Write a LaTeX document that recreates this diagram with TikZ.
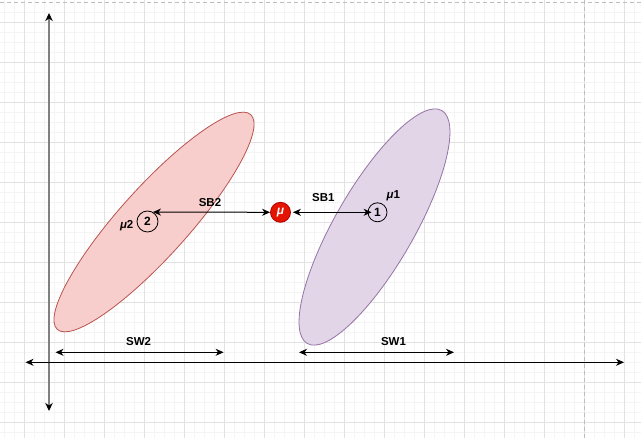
\documentclass[tikz,border=0pt]{standalone}
\usepackage{fontspec}
\setmainfont{Liberation Sans}
\usetikzlibrary{positioning,arrows.meta,shapes.geometric}
\definecolor{cRedFill}{HTML}{F8CECC}
\definecolor{cRedLine}{HTML}{B85450}
\definecolor{cPurFill}{HTML}{E1D5E7}
\definecolor{cPurLine}{HTML}{9673A6}
\definecolor{cMu}{HTML}{E51400}
\definecolor{cMuLine}{HTML}{B20000}
\definecolor{cAxis}{HTML}{808080}
\definecolor{cGridMajor}{HTML}{E2E2E2}
\definecolor{cGridMinor}{HTML}{F4F4F4}
\definecolor{cPage}{HTML}{BDBDBD}
\tikzset{
  grid-minor/.style={draw=cGridMinor,line width=0.8pt},
  grid-major/.style={draw=cGridMajor,line width=1pt},
  page-break/.style={draw=cPage,line width=0.8pt,dash pattern=on 4pt off 3pt},
  cluster-red/.style={ellipse,draw=cRedLine,fill=cRedFill,line width=0.8pt,inner sep=0pt},
  cluster-purple/.style={ellipse,draw=cPurLine,fill=cPurFill,line width=0.8pt,inner sep=0pt},
  node-mean/.style={circle,draw=black,line width=0.8pt,inner sep=0pt,
    font=\fontsize{12}{12}\selectfont\bfseries},
  node-mu/.style={circle,draw=cMuLine,fill=cMu,text=white,line width=0.8pt,inner sep=0pt,
    minimum size=20pt,font=\fontsize{12}{12}\selectfont\bfseries\itshape},
  node-label/.style={inner sep=0pt,font=\fontsize{11.5}{12}\selectfont\bfseries},
  arrow-both/.style={{Stealth[length=8pt,width=7pt,inset=2.5pt]}-{Stealth[length=8pt,width=7pt,inset=2.5pt]},
    line width=1pt,draw=black},
  arrow-axis/.style={{Stealth[length=8pt,width=7.5pt,inset=2.5pt,color=black]}-{Stealth[length=8pt,width=7.5pt,inset=2.5pt,color=black]},
    line width=2pt,draw=cAxis},
}

\begin{document}
\begin{tikzpicture}[x=1pt,y=-1pt]
  \useasboundingbox[fill=white] (0,0) rectangle (641,438);
  % background grid
  \foreach \i in {0,...,63} \draw[grid-minor] ({4.3+10*\i},0) -- ({4.3+10*\i},438);
  \foreach \j in {1,...,43} \draw[grid-minor] (0,{2.3+10*\j}) -- (641,{2.3+10*\j});
  \foreach \i in {0,...,15} \draw[grid-major] ({24.3+40*\i},0) -- ({24.3+40*\i},438);
  \foreach \j in {0,...,10} \draw[grid-major] (0,{22.3+40*\j}) -- (641,{22.3+40*\j});
  \draw[page-break] (0,2.3) -- (641,2.3);
  \draw[page-break] (584.3,0) -- (584.3,438);

  % the two classes
  \node[cluster-red,minimum width=289pt,minimum height=69pt,rotate=48] (ell2) at (154,222) {};
  \node[cluster-purple,minimum width=269pt,minimum height=79pt,rotate=60] (ell1) at (374.5,227) {};

  % axes
  \coordinate (y-top) at (49,13);
  \coordinate (y-bot) at (49,411);
  \coordinate (x-left) at (25.5,362.3);
  \coordinate (x-right) at (624,362.3);
  \draw[arrow-axis] (y-bot) -- (y-top);
  \draw[arrow-both] (x-left) -- (x-right);

  % within-class spreads
  \coordinate (sw2-a) at (55.5,352.3);
  \coordinate (sw2-b) at (223.6,352.3);
  \coordinate (sw1-a) at (299,352.3);
  \coordinate (sw1-b) at (454,352.3);
  \draw[arrow-both] (sw2-a) -- (sw2-b);
  \draw[arrow-both] (sw1-a) -- (sw1-b);
  \node[node-label] (sw2) at (138.6,342) {SW2};
  \node[node-label] (sw1) at (393.5,342) {SW1};

  % means
  \node[node-mean,minimum size=21pt] (c2) at (147.5,221.5) {2};
  \node[node-mean,minimum size=19pt] (c1) at (377.5,212.3) {1};
  \node[node-mu] (mu) at (280.5,212.3) {μ};
  \draw[arrow-both] (mu.west) -- (c2.60);
  \draw[arrow-both,shorten <=2pt,shorten >=-4pt] (mu.east) -- (c1.west);
  \node[node-label] (sb2) at (210,202.7) {SB2};
  \node[node-label] (sb1) at (323.3,197.3) {SB1};
  \node[node-label] (mu2) at (126.7,226) {\textit{μ}2};
  \node[node-label] (mu1) at (393.3,196) {\textit{μ}1};
\end{tikzpicture}
\end{document}
